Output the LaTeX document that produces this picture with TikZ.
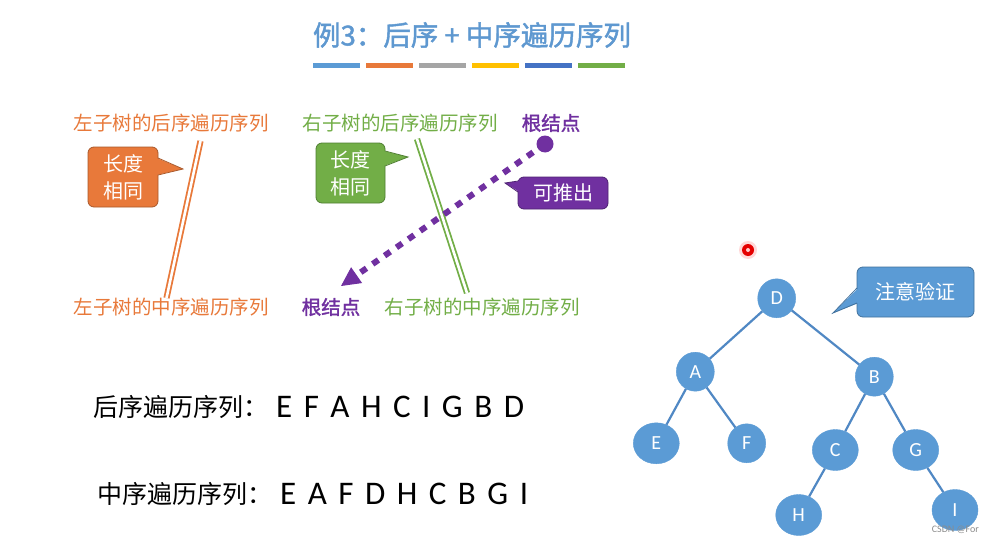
\documentclass[tikz,border=0pt]{standalone}
\usepackage{fontspec}
\setmainfont{Carlito}
\newfontfamily\cjk{Noto Sans CJK SC}
\newfontfamily\cjkb[FakeBold=1.6]{Noto Sans CJK SC}
\usetikzlibrary{arrows.meta,shapes.geometric,calc}
\definecolor{tblue}{HTML}{5B9BD5}
\definecolor{tblueD}{HTML}{41719C}
\definecolor{titleblue}{HTML}{5E98D0}
\definecolor{corange}{HTML}{E8793A}
\definecolor{corangeD}{HTML}{A9582A}
\definecolor{cgreen}{HTML}{72AE47}
\definecolor{cgreenD}{HTML}{4F7F31}
\definecolor{cpurple}{HTML}{7030A0}
\definecolor{cpurpleD}{HTML}{4E2272}
\definecolor{edgeblue}{HTML}{5088C4}
\definecolor{bgray}{HTML}{A5A5A5}
\definecolor{byellow}{HTML}{FFC000}
\definecolor{bdblue}{HTML}{4472C4}
\newcommand\lgap{\hspace{11.5pt}}
\tikzset{
  lbl/.style={font=\cjk\fontsize{19.5}{22}\selectfont, inner sep=0pt},
  callbox/.style={rounded corners=6pt, line width=0.8pt, inner sep=0pt, align=center,
    text=white, font=\cjk\fontsize{20}{27}\selectfont},
  tnode/.style={ellipse, fill=tblue, draw=tblue, text=white, inner sep=0pt,
    minimum width=38pt, minimum height=39pt, font=\fontsize{20}{20}\selectfont},
  tleaf/.style={tnode, minimum width=46pt, minimum height=41pt},
  tedge/.style={draw=edgeblue, line width=2.2pt},
  dline/.style={double distance=2.6pt, line width=1.8pt, double=white},
  seqfont/.style={font=\fontsize{33}{33}\selectfont}
}
\begin{document}
\begin{tikzpicture}[x=1pt,y=-1pt]
\useasboundingbox (0,0) rectangle (993,543);
\fill[white] (0,0) rectangle (993,543);

% title
\node[text=titleblue, font=\cjkb\fontsize{27.5}{30}\selectfont, inner sep=0pt] (title) at (472,35) {例3：后序 + 中序遍历序列};
% colour bars
\fill[tblue]   (313,63.5) rectangle (360,68.5);
\fill[corange] (366,63.5) rectangle (413,68.5);
\fill[bgray]   (419,63.5) rectangle (466,68.5);
\fill[byellow] (472,63.5) rectangle (519,68.5);
\fill[bdblue]  (525,63.5) rectangle (572,68.5);
\fill[cgreen]  (578,63.5) rectangle (625,68.5);

% labels
\node[lbl, text=corange] (lpost) at (171,123) {左子树的后序遍历序列};
\node[lbl, text=cgreen]  (rpost) at (400,123) {右子树的后序遍历序列};
\node[lbl, text=cpurple, font=\cjkb\fontsize{19.5}{22}\selectfont] (rootpost) at (551,123) {根结点};
\node[lbl, text=corange] (lin) at (171,307) {左子树的中序遍历序列};
\node[lbl, text=cpurple, font=\cjkb\fontsize{19.5}{22}\selectfont] (rootin) at (331,307) {根结点};
\node[lbl, text=cgreen]  (rin) at (482,307) {右子树的中序遍历序列};

% double lines
\coordinate (ot) at (200.5,141);
\coordinate (ob) at (166.5,298);
\coordinate (gt) at (417,139);
\coordinate (gb) at (467,293);
\draw[dline, corange] (ot) -- (ob);
\draw[dline, cgreen] (gt) -- (gb);

% orange callout
\node[callbox, fill=corange, draw=corangeD, minimum width=70pt, minimum height=60pt] (lenL) at (123,177) {长度\\相同};
\fill[corange] (156.5,158) -- (183,169) -- (156.5,175) -- cycle;
\draw[corangeD, line width=0.8pt] (158,158) -- (183,169) -- (158,175);

% green callout
\node[callbox, fill=cgreen, draw=cgreenD, minimum width=69pt, minimum height=60pt] (lenR) at (350.5,173) {长度\\相同};
\fill[cgreen] (383.5,151) -- (408,157) -- (383.5,166) -- cycle;
\draw[cgreenD, line width=0.8pt] (385,151) -- (408,157) -- (385,166);

% purple dotted arrow
\node[circle, fill=cpurple, inner sep=0pt, minimum size=17pt] (rdot) at (545,144) {};
\coordinate (atip) at (341,286);
\draw[cpurple, line width=6pt, dash pattern=on 7pt off 7.5pt] (rdot.center) -- ($(atip)!17pt!(rdot.center)$);
\draw[cpurple, line width=1pt, -{Triangle[length=19pt,width=19pt]}] ($(atip)!19pt!(rdot.center)$) -- (atip);

% purple callout
\node[callbox, fill=cpurple, draw=cpurpleD, minimum width=90pt, minimum height=32pt] (infer) at (563,193) {可推出};
\fill[cpurple] (519.5,181) -- (505,183) -- (519.5,192) -- cycle;
\draw[cpurpleD, line width=0.8pt] (518,181) -- (505,183) -- (518,192);

% tree
\node[tnode] (D) at (776.7,298.3) {D};
\node[tnode] (A) at (695.3,371.7) {A};
\node[tnode] (B) at (874.3,376.7) {B};
\node[tleaf] (E) at (656.3,443.3) {E};
\node[tnode] (F) at (746.7,443.3) {F};
\node[tleaf] (C) at (835.3,450) {C};
\node[tleaf] (G) at (915.7,450) {G};
\node[tleaf] (H) at (798.7,515) {H};
\node[tleaf] (I) at (955,510) {I};
\draw[tedge] (D) -- (A);
\draw[tedge] (D) -- (B);
\draw[tedge] (A) -- (E);
\draw[tedge] (A) -- (F);
\draw[tedge] (B) -- (C);
\draw[tedge] (B) -- (G);
\draw[tedge] (C) -- (H);
\draw[tedge] (G) -- (I);

% blue callout
\node[callbox, fill=tblue, draw=tblueD, minimum width=117pt, minimum height=50pt] (verify) at (915.5,292) {注意验证};
\fill[tblue] (858.5,288) -- (833,313) -- (858.5,303) -- cycle;
\draw[tblueD, line width=0.8pt] (857,288) -- (833,313) -- (857,303);

% laser pointer dot
\node[circle, fill=red!30, inner sep=0pt, minimum size=18pt, opacity=0.5] (laserhalo) at (748,250) {};
\node[circle, fill=red!90!black, inner sep=0pt, minimum size=12pt] (laser) at (748,250) {};
\node[circle, fill=white!80!red, inner sep=0pt, minimum size=4pt] (lasercore) at (748,250) {};

% sequences
\node[anchor=west, inner sep=0pt, font=\cjk\fontsize{25}{28}\selectfont] (postlbl) at (93,407) {后序遍历序列：};
\node[anchor=west, inner sep=0pt, seqfont] (postseq) at (276,407) {E\lgap F\lgap A\lgap H\lgap C\lgap I\lgap G\lgap B\lgap D};
\node[anchor=west, inner sep=0pt, font=\cjk\fontsize{25}{28}\selectfont] (inlbl) at (97,494) {中序遍历序列：};
\node[anchor=west, inner sep=0pt, seqfont] (inseq) at (280,494) {E\lgap A\lgap F\lgap D\lgap H\lgap C\lgap B\lgap G\lgap I};

% watermark
\node[anchor=east, inner sep=0pt, text=black!45, font=\fontsize{10}{10}\selectfont] (csdn) at (979,530) {CSDN @For};
\end{tikzpicture}
\end{document}
